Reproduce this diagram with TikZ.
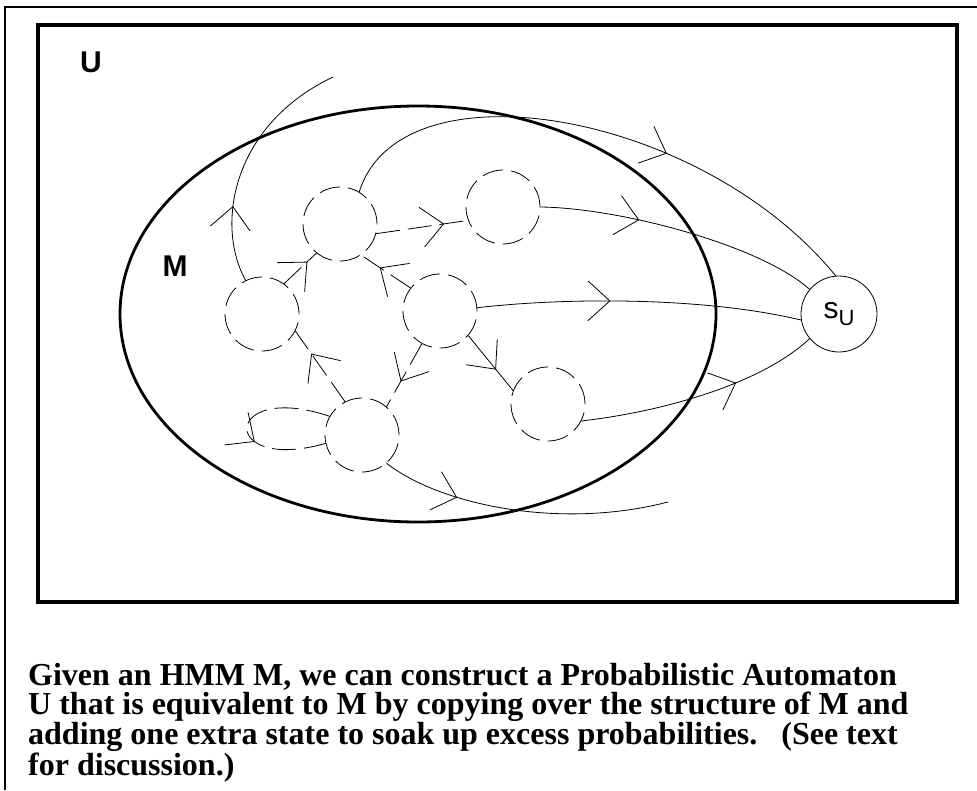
\documentclass[tikz,border=0pt]{standalone}
\usepackage{fontspec}
\setmainfont{Liberation Serif}
\newfontfamily\helv{Liberation Sans}
\usetikzlibrary{decorations.markings,arrows.meta}
\tikzset{
  st/.style={circle, draw, dash pattern=on 21pt off 8pt, minimum size=74pt, inner sep=0pt, line width=0.8pt},
  su/.style={circle, draw, minimum size=76pt, inner sep=0pt, line width=0.8pt},
  ln/.style={line width=0.8pt},
  dl/.style={ln, dash pattern=on 24pt off 8pt},
  ar/.style={postaction={decorate}, decoration={markings, mark=at position #1 with {\arrow{Straight Barb[length=22pt,width=40pt,line width=0.8pt]}}}},
  lab/.style={font=\helv\bfseries\fontsize{30}{30}\selectfont, inner sep=0pt},
}
\begin{document}
\begin{tikzpicture}[x=1pt,y=-1pt]
\useasboundingbox (0,0) rectangle (977,790);
% outer frame (partly outside the page)
\draw[line width=2pt] (5,790) -- (5,7) -- (977,7);
% inner frame
\draw[line width=4.5pt] (38,25) rectangle (957,602);
% region M
\draw[line width=2.8pt] (418,314) ellipse [x radius=298pt, y radius=208pt];
\node[lab] (lU) at (91,62) {U};
\node[lab] (lM) at (175,266) {M};
% states
\node[st] (A) at (262,314) {};
\node[st] (B) at (340,224) {};
\node[st] (C) at (503,207) {};
\node[st] (D) at (440,311) {};
\node[st] (E) at (548,404) {};
\node[st] (F) at (362,435) {};
\node[su] (S) at (839,314) {\helv\fontsize{30}{30}\selectfont s\raisebox{-7pt}{\fontsize{22}{22}\selectfont U}};
\coordinate (e1) at (333,77);
\coordinate (e2) at (668,502);
% transitions
\draw[ln, ar=0.31] (A.116) .. controls (215,225) and (232,125) .. (e1);
\draw[dl, ar=0.72] (A.54) -- (B.231);
\draw[dl, ar=0.74] (B.-15) -- (C.201);
\draw[dl, ar=0.62] (D.142) -- (B.-56);
\draw[dl, ar=0.68] (F.117) -- (A.-27);
\draw[dl, ar=0.60] (D.241) -- (F.49);
\draw[ln, ar=0.62] (D.-41) -- (E.159);
\draw[dl, ar=0.60] (F.150) .. controls (222,380) and (218,474) .. (F.193);
\draw[ln, ar=0.27] (F.-49) .. controls (440,505) and (560,530) .. (e2);
\draw[ln, ar=0.62] (B.59) .. controls (400,60) and (700,110) .. (S.95);
\draw[ln, ar=0.35] (C.0) .. controls (620,208) and (760,245) .. (S.140);
\draw[ln, ar=0.41] (D.5) .. controls (560,298) and (700,296) .. (S.189);
\draw[ln, ar=0.65] (E.-27) .. controls (660,412) and (760,385) .. (S.220);
% caption
\node[anchor=north west, align=left, inner sep=0pt, font=\fontsize{32}{29.5}\selectfont\bfseries] (cap) at (28,663)
  {Given an HMM M, we can construct a Probabilistic Automaton\\
   U that is equivalent to M by copying over the structure of M and\\
   adding one extra state to soak up excess probabilities.~~~(See text\\
   for discussion.)};
\end{tikzpicture}
\end{document}
